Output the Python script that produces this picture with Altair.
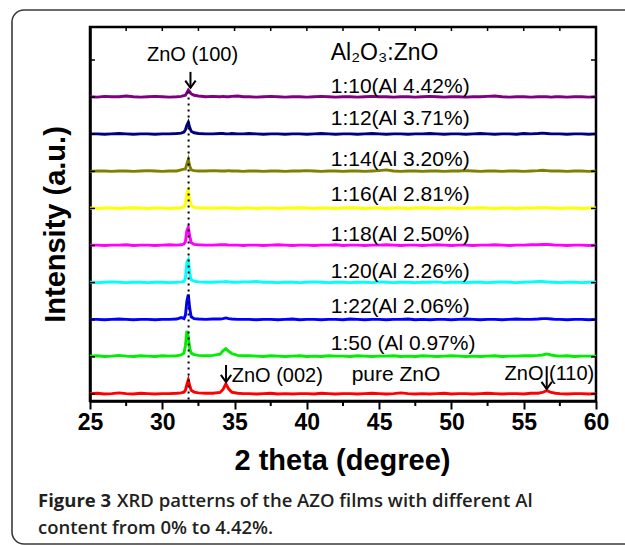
import altair as alt
import pandas as pd

# ---------------- data ----------------
two_theta = [25.0, 25.5, 26.0, 26.5, 27.0, 27.5, 28.0, 28.5, 29.0, 29.5, 30.0, 30.5, 31.0,
             31.3, 31.5, 31.6, 31.7, 31.8, 31.9, 32.0, 32.2, 32.5,
             33.0, 33.5, 34.0,
             34.2, 34.4, 34.6, 34.8,
             35.2, 35.6,
             36.0, 36.5, 37.0, 37.5, 38.0, 38.5, 39.0, 39.5, 40.0, 40.5,
             41.0, 41.5, 42.0, 42.5, 43.0, 43.5, 44.0, 44.5, 45.0, 45.5,
             46.0, 46.5, 47.0, 47.5, 48.0, 48.5, 49.0, 49.5, 50.0, 50.5,
             51.0, 51.5, 52.0, 52.5, 53.0, 53.5, 54.0, 54.5, 55.0, 55.5, 56.0,
             56.3, 56.6, 56.9, 57.2,
             57.5, 58.0, 58.5, 59.0, 59.5, 60.0]

series_names = ["pure ZnO", "1:50", "1:22", "1:20", "1:18", "1:16", "1:14", "1:12", "1:10"]
series_colors = ["#ff0000", "#00ee00", "#0000ff", "#00ffff", "#ff00ff", "#ffff00",
                 "#808000", "#000080", "#800080"]

# intensities (a.u. x100) above each pattern's own baseline
pure_zno = [1, 2, 0, 1, 3, 1, 0, 2, 1, 0, 1, 1, 2,
            3, 5, 10, 26, 38, 22, 10, 5, 3,
            2, 2, 4,
            12, 27, 13, 5,
            2, 1,
            1, 0, 1, 2, 0, 1, 0, 1, 1, 0, 2, 1, 0, 1, 1, 0, 1, 2, 1, 0,
            1, 3, 1, 0, 1, 0, 1, 2, 0, 1, 1, 0, 1, 2, 1, 0, 1, 1, 0, 2, 2,
            4, 9, 4, 2,
            1, 0, 1, 1, 0, 1]
al_097 = [2, 3, 1, 2, 4, 2, 1, 3, 2, 1, 3, 2, 3,
          5, 10, 30, 70, 55, 22, 10, 6, 4,
          3, 4, 7,
          16, 22, 15, 9,
          4, 3,
          3, 2, 1, 3, 2, 1, 2, 3, 1, 2, 1, 3, 2, 2, 1, 3, 2, 1, 2, 2,
          3, 1, 2, 1, 3, 2, 1, 2, 3, 2, 1, 2, 1, 2, 3, 1, 2, 2, 3, 3, 4,
          5, 8, 5, 3,
          2, 3, 1, 2, 2, 2]
al_206 = [1, 1, 0, 1, 2, 1, 0, 1, 1, 0, 1, 1, 2,
          6, 3, 12, 50, 68, 30, 8, 3, 2,
          1, 2, 2,
          3, 5, 3, 2,
          1, 1,
          1, 0, 1, 1, 0, 1, 2, 0, 1, 1, 0, 1, 1, 0, 2, 1, 0, 1, 1, 0,
          1, 1, 2, 0, 1, 0, 1, 1, 0, 1, 2, 1, 0, 1, 1, 0, 1, 2, 1, 1, 2,
          3, 3, 2, 1,
          1, 0, 1, 1, 0, 1]
al_226 = [1, 0, 1, 2, 1, 0, 1, 1, 0, 1, 1, 0, 1,
          2, 3, 12, 55, 62, 25, 8, 4, 2,
          1, 1, 2,
          2, 3, 2, 1,
          1, 2,
          2, 3, 1, 1, 0, 1, 1, 0, 1, 2, 1, 0, 1, 1, 0, 1, 1, 0, 2, 1,
          0, 1, 1, 0, 1, 1, 2, 0, 1, 1, 0, 1, 1, 0, 1, 2, 1, 0, 1, 2, 3,
          3, 2, 1, 1,
          0, 1, 1, 0, 1, 1]
al_250 = [1, 1, 0, 1, 1, 2, 0, 1, 1, 0, 1, 2, 1,
          2, 4, 10, 40, 49, 25, 8, 3, 2,
          1, 1, 2,
          2, 2, 1, 1,
          1, 0,
          1, 1, 0, 1, 2, 1, 0, 1, 1, 0, 1, 1, 2, 0, 1, 1, 0, 1, 1, 2,
          1, 0, 1, 1, 0, 1, 2, 1, 0, 1, 1, 0, 1, 1, 2, 1, 0, 1, 1, 2, 2,
          3, 3, 2, 1,
          1, 0, 1, 1, 0, 1]
al_281 = [1, 0, 1, 1, 0, 1, 2, 1, 0, 1, 1, 0, 1,
          2, 4, 12, 42, 51, 24, 8, 3, 2,
          1, 1, 1,
          2, 2, 1, 1,
          0, 1,
          1, 0, 1, 1, 0, 1, 1, 2, 1, 0, 1, 1, 0, 1, 2, 1, 0, 1, 1, 0,
          1, 1, 0, 1, 2, 1, 0, 1, 1, 0, 1, 1, 2, 1, 0, 1, 1, 0, 1, 1, 2,
          2, 2, 1, 1,
          0, 1, 1, 0, 1, 1]
al_320 = [0, 1, 1, 0, 1, 1, 0, 1, 2, 1, 0, 1, 1,
          4, 6, 6, 20, 32, 14, 4, 2, 1,
          1, 2, 1,
          1, 1, 2, 1,
          1, 0,
          1, 1, 0, 1, 1, 0, 1, 1, 2, 1, 0, 1, 1, 0, 1, 1, 0, 1, 2, 4,
          1, 0, 1, 1, 0, 1, 1, 0, 1, 1, 2, 1, 0, 1, 1, 0, 1, 1, 0, 1, 2,
          3, 2, 1, 1,
          1, 0, 1, 1, 0, 1]
al_371 = [1, 1, 0, 1, 2, 1, 0, 1, 1, 0, 1, 1, 2,
          3, 6, 12, 24, 32, 18, 8, 4, 2,
          1, 1, 2,
          2, 1, 1, 2,
          1, 1,
          2, 1, 0, 1, 1, 0, 1, 1, 0, 1, 2, 1, 0, 1, 1, 0, 1, 2, 1, 0,
          1, 1, 0, 1, 1, 2, 1, 0, 1, 1, 0, 1, 2, 1, 0, 1, 1, 0, 2, 1, 2,
          3, 2, 1, 1,
          1, 0, 1, 1, 0, 1]
al_442 = [1, 0, 2, 1, 1, 3, 1, 0, 1, 2, 1, 0, 1,
          2, 4, 5, 12, 19, 14, 9, 5, 3,
          1, 2, 1,
          2, 1, 1, 2,
          3, 1,
          1, 0, 1, 2, 1, 0, 1, 1, 0, 1, 2, 1, 0, 1, 1, 0, 1, 2, 1, 1,
          0, 1, 1, 0, 1, 2, 1, 0, 1, 1, 0, 1, 1, 2, 3, 1, 0, 1, 1, 0, 1,
          1, 1, 0, 1,
          1, 0, 1, 1, 0, 1]
series_values = [pure_zno, al_097, al_206, al_226, al_250, al_281, al_320, al_371, al_442]

label_text = ["1:50 (Al 0.97%)", "1:22(Al 2.06%)", "1:20(Al 2.26%)", "1:18(Al 2.50%)",
              "1:16(Al 2.81%)", "1:14(Al 3.20%)", "1:12(Al 3.71%)", "1:10(Al 4.42%)"]
label_y = [1.18, 2.17, 3.13, 4.12, 5.20, 6.14, 7.24, 8.10]
label_x = 41.65

x_tick_values = [25, 30, 35, 40, 45, 50, 55, 60]
x_minor_values = [27.5, 32.5, 37.5, 42.5, 47.5, 52.5, 57.5]
x_top_values = [27.5, 30, 32.5, 35, 37.5, 40, 42.5, 45, 47.5, 50, 52.5, 55, 57.5]
y_tick_values = [0, 1, 2, 3, 4, 5, 6, 7, 8, 9]

# ---------------- tables ----------------
rows = []
for k, (name, vals) in enumerate(zip(series_names, series_values)):
    assert len(vals) == len(two_theta), (name, len(vals))
    for x, v in zip(two_theta, vals):
        rows.append({"two_theta": x, "intensity": k + v / 100.0, "series": name})
df = pd.DataFrame(rows)

W, H = 506, 374
FONT = "Liberation Sans"
xs = alt.Scale(domain=[25, 60], nice=False, zero=False)
ys = alt.Scale(domain=[-0.19, 9.89], nice=False, zero=False)

x_axis = alt.Axis(values=x_tick_values, title="2 theta (degree)", labelFont=FONT,
                  labelFontSize=23, labelFontWeight="bold", labelColor="black",
                  labelPadding=2, tickSize=8, tickWidth=2, tickColor="black",
                  domainColor="black", domainWidth=2.5, grid=False,
                  titleFont=FONT, titleFontSize=29, titleFontWeight="bold",
                  titleColor="black", titleX=252, titleY=68, titleBaseline="alphabetic",
                  titleAlign="center", labelFlush=False, labelOverlap=False)
y_axis = alt.Axis(title="Intensity (a.u.)", labels=False, ticks=False, domain=True,
                  domainColor="black", domainWidth=2.5, grid=False,
                  titleFont=FONT, titleFontSize=29, titleFontWeight="bold",
                  titleColor="black", titleX=-35, titleY=197, titleAngle=270,
                  titleAlign="center", titleBaseline="middle")


def X():
    return alt.X("two_theta:Q", scale=xs, axis=x_axis)


def Y():
    return alt.Y("intensity:Q", scale=ys, axis=y_axis)


lines = alt.Chart(df).mark_line(strokeWidth=2.9).encode(
    x=X(), y=Y(),
    color=alt.Color("series:N", scale=alt.Scale(domain=series_names, range=series_colors),
                    legend=None),
    detail="series:N",
)

dotted = alt.Chart(pd.DataFrame({"two_theta": [31.82], "intensity": [8.15],
                                 "intensity2": [-0.19]})).mark_rule(
    color="black", strokeWidth=2, strokeDash=[2, 4]).encode(x=X(), y=Y(), y2="intensity2:Q")

labels = alt.Chart(pd.DataFrame({"two_theta": [label_x] * len(label_text),
                                 "intensity": label_y, "txt": label_text})).mark_text(
    align="left", baseline="alphabetic", font=FONT, fontSize=21, color="black").encode(
    x=X(), y=Y(), text="txt:N")

ann_center = alt.Chart(pd.DataFrame({"two_theta": [32.09, 56.78], "intensity": [8.98, 0.38],
                                     "txt": ["ZnO (100)", "ZnO (110)"]})).mark_text(
    align="center", baseline="alphabetic", font=FONT, fontSize=20, color="black").encode(
    x=X(), y=Y(), text="txt:N")
ann_left = alt.Chart(pd.DataFrame({"two_theta": [34.8], "intensity": [0.33],
                                   "txt": ["ZnO (002)"]})).mark_text(
    align="left", baseline="alphabetic", font=FONT, fontSize=20, color="black").encode(
    x=X(), y=Y(), text="txt:N")
pure_lab = alt.Chart(pd.DataFrame({"two_theta": [43.1], "intensity": [0.35],
                                   "txt": ["pure ZnO"]})).mark_text(
    align="left", baseline="alphabetic", font=FONT, fontSize=21, color="black").encode(
    x=X(), y=Y(), text="txt:N")
head_lab = alt.Chart(pd.DataFrame({"two_theta": [41.65], "intensity": [9.0],
                                   "txt": ["Al₂O₃:ZnO"]})).mark_text(
    align="left", baseline="alphabetic", font=FONT, fontSize=23, color="black").encode(
    x=X(), y=Y(), text="txt:N")

arrows_df = pd.DataFrame({"two_theta": [31.95, 34.41, 56.59],
                          "intensity": [8.68, 0.78, 0.75],
                          "intensity2": [8.25, 0.32, 0.13]})
shafts = alt.Chart(arrows_df).mark_rule(color="black", strokeWidth=2).encode(
    x=X(), y=Y(), y2="intensity2:Q")
heads = alt.Chart(arrows_df).mark_point(
    shape="M-0.65,-0.9L0,0L0.65,-0.9", size=256, filled=False, color="black",
    strokeWidth=2, opacity=1).encode(x=X(), y=alt.Y("intensity2:Q", scale=ys, axis=y_axis))

minor_ticks = alt.Chart(pd.DataFrame({"two_theta": x_minor_values})).mark_rule(
    color="black", strokeWidth=2).encode(x=X(), y=alt.value(H), y2=alt.value(H + 5))
top_ticks = alt.Chart(pd.DataFrame({"two_theta": x_top_values})).mark_rule(
    color="black", strokeWidth=1.5).encode(x=X(), y=alt.value(0), y2=alt.value(4))
left_ticks = alt.Chart(pd.DataFrame({"intensity": y_tick_values})).mark_rule(
    color="black", strokeWidth=1.5).encode(y=Y(), x=alt.value(0), x2=alt.value(5))
right_ticks = alt.Chart(pd.DataFrame({"intensity": y_tick_values})).mark_rule(
    color="black", strokeWidth=1.5).encode(y=Y(), x=alt.value(W - 5), x2=alt.value(W))

one = pd.DataFrame({"a": [0]})
border = alt.Chart(one).mark_rect(fillOpacity=0, stroke="#3a3a3a", strokeWidth=1.6,
                                  cornerRadius=12).encode(
    x=alt.value(-78), x2=alt.value(560), y=alt.value(-17), y2=alt.value(517))

CAP_FONT = "Open Sans"
cap1 = alt.Chart(one).mark_text(text="Figure 3", align="left", baseline="alphabetic",
                                font=CAP_FONT, fontSize=18.5, fontWeight="bold",
                                color="#231f20").encode(x=alt.value(-52), y=alt.value(480))
cap2 = alt.Chart(one).mark_text(text="XRD patterns of the AZO films with different Al",
                                align="left", baseline="alphabetic", font=CAP_FONT,
                                fontSize=18.5, fontWeight=600, color="#231f20").encode(
    x=alt.value(27), y=alt.value(480))
cap3 = alt.Chart(one).mark_text(text="content from 0% to 4.42%.", align="left",
                                baseline="alphabetic", font=CAP_FONT, fontSize=18.5,
                                fontWeight=600, color="#231f20").encode(
    x=alt.value(-52), y=alt.value(507))

chart = alt.layer(
    border, lines, dotted, shafts, heads, labels, ann_center, ann_left, pure_lab, head_lab,
    minor_ticks, top_ticks, left_ticks, right_ticks, cap1, cap2, cap3,
).properties(
    width=W, height=H,
    autosize=alt.AutoSizeParams(type="none"),
    padding={"left": 90, "top": 27, "right": 29, "bottom": 144},
    background="white",
).configure_view(stroke="black", strokeWidth=2.5)

chart.save("out.html", embed_options={"renderer": "svg", "actions": False})
